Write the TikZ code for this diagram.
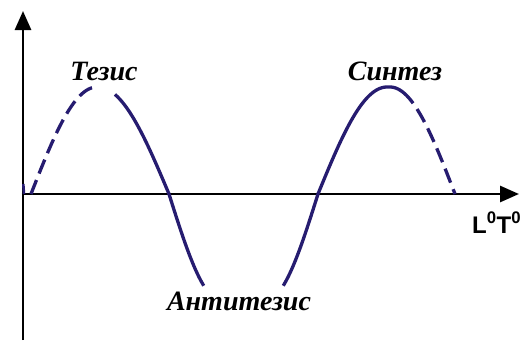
\documentclass[tikz,border=0pt]{standalone}
\usepackage{fontspec}
\setmainfont{Liberation Serif}
\setsansfont{Liberation Sans}
\usetikzlibrary{arrows.meta}
\definecolor{curvecol}{RGB}{38,28,112}
\tikzset{
  axisline/.style={line width=2.8pt, black, -{Triangle[length=19pt,width=16pt]}},
  curvesolid/.style={line width=3.3pt, curvecol},
  curvedash/.style={line width=3.3pt, curvecol, dash pattern=on 15pt off 7pt},
  phase/.style={font=\fontsize{28}{28}\selectfont\bfseries\itshape, inner sep=0pt, anchor=base},
  axislabel/.style={font=\fontsize{24}{24}\selectfont\sffamily\bfseries, inner sep=0pt, anchor=base west}
}
\begin{document}
\begin{tikzpicture}[x=1pt,y=-1pt]
\useasboundingbox (0,0) rectangle (524,356);
% axes
\coordinate (ybot) at (23,340);
\coordinate (ytop) at (23,11);
\coordinate (xleft) at (21.6,194);
\coordinate (xright) at (519,194);
\draw[axisline] (ybot) -- (ytop);
\draw[axisline] (xleft) -- (xright);
% small mark at origin
\coordinate (m1) at (23.3,184);
\coordinate (m2) at (24,194);
\draw[curvesolid, line width=2.6pt] (m1) -- (m2);
% first arch: dashed rise
\draw[curvedash] plot[domain=0:90, samples=40, variable=\t] ({31+66*\t/90},{194-107*sin(\t)});
% solid: fall of first arch and down into trough
\draw[curvesolid] plot[domain=21.5:90, samples=40, variable=\t] ({98+71*\t/90},{194-107*cos(\t)})
  -- plot[domain=0:59, samples=30, variable=\t] ({169+53*\t/90},{194+107*sin(\t)});
% solid: out of trough, rise of second arch, over the top
\draw[curvesolid] plot[domain=59:0, samples=30, variable=\t] ({318-53*\t/90},{194+107*sin(\t)})
  -- plot[domain=0:90, samples=40, variable=\t] ({318+69*\t/90},{194-107*sin(\t)})
  -- plot[domain=0:32, samples=15, variable=\t] ({390+65*\t/90},{194-107*cos(\t)});
% dashed fall of second arch
\draw[curvedash, dash phase=15pt] plot[domain=32:90, samples=30, variable=\t] ({390+65*\t/90},{194-107*cos(\t)});
% labels
\node[phase] (tezis) at (104,80) {Тезис};
\node[phase] (sintez) at (395,80) {Синтез};
\node[phase] (antitezis) at (239,310) {Антитезис};
\node[axislabel] (lt) at (472,233) {L\textsuperscript{0}T\textsuperscript{0}};
\end{tikzpicture}
\end{document}
